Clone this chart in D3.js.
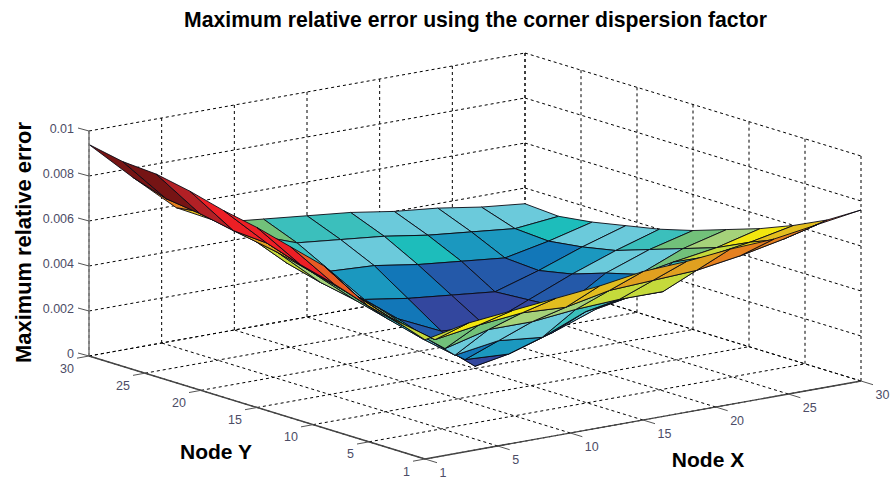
<!DOCTYPE html>
<html><head><meta charset="utf-8">
<script src="https://cdn.jsdelivr.net/npm/d3@7"></script>
<style>html,body{margin:0;background:#fff}svg{display:block}text{font-family:"Liberation Sans",Arial,sans-serif}</style>
</head><body><svg id="c" width="890" height="480"></svg>
<script>
const chartTitle="Maximum relative error using the corner dispersion factor";
const zTitle="Maximum relative error", xTitle="Node X", yTitle="Node Y";
const nodeX=[0,3,6,9,12,15,18,21,24,27,30];
const nodeY=[0,3,6,9,12,15,18,21,24,27,30];
const tickPos=[0,5,10,15,20,25,30];
const tickLabels=["1","5","10","15","20","25","30"];
const zTicks=[0,0.002,0.004,0.006,0.008,0.01];
const zTickLabels=["0","0.002","0.004","0.006","0.008","0.01"];
// rows by nodeY index, columns by nodeX index
const errY0 =[.0053,.0057,.0059,.0061,.0063,.0066,.0067,.0069,.0070,.0073,.0076];
const errY3 =[.0058,.0045,.0048,.0050,.0049,.0053,.0054,.0055,.0058,.0062,.0067];
const errY6 =[.0063,.0047,.0033,.0038,.0038,.0040,.0041,.0041,.0053,.0056,.0060];
const errY9 =[.0072,.0051,.0037,.0022,.0025,.0023,.0031,.0034,.0046,.0049,.0054];
const errY12=[.0076,.0056,.0042,.0025,.0012,.0011,.0017,.0024,.0036,.0044,.0049];
const errY15=[.0080,.0060,.0045,.0029,.0016,.0001,.0008,.0020,.0032,.0039,.0044];
const errY18=[.0083,.0065,.0049,.0033,.0021,.0012,.0011,.0019,.0027,.0034,.0040];
const errY21=[.0087,.0066,.0053,.0036,.0025,.0022,.0020,.0018,.0024,.0031,.0037];
const errY24=[.0090,.0069,.0057,.0040,.0033,.0032,.0029,.0027,.0025,.0029,.0034];
const errY27=[.0091,.0071,.0061,.0048,.0041,.0039,.0037,.0034,.0032,.0030,.0032];
const errY30=[.0094,.0076,.0059,.0049,.0047,.0045,.0043,.0040,.0038,.0035,.0033];
const errorRows=[errY0,errY3,errY6,errY9,errY12,errY15,errY18,errY21,errY24,errY27,errY30];
const colorStops=[.0015,.0021,.0025,.0029,.0030,.0039,.0044,.0049,.0053,.0056,.0060,.0065,.0069,.0072,.0075,.0085,.0088];
const colorRamp=["#33479e","#2459a9","#1277b8","#1b98bf","#1dbdbb","#6bcadb","#3bbfbc","#72c17a","#a5d27a","#c5da3b","#f2e60f","#e2bd1f","#e0a020","#e5801f","#e85a24","#ec1f25","#b22025","#761414"];

const color=d3.scaleThreshold().domain(colorStops).range(colorRamp);
const ox=[425,459];
const sxX=d3.scaleLinear().domain([0,30]).range([0,436]);
const sxY=d3.scaleLinear().domain([0,30]).range([0,-78]);
const syX=d3.scaleLinear().domain([0,30]).range([0,-336]);
const syY=d3.scaleLinear().domain([0,30]).range([0,-103]);
const sz=d3.scaleLinear().domain([0,0.01]).range([0,-225]);
const P=(x,y,z)=>[ox[0]+sxX(x)+syX(y), ox[1]+sxY(x)+syY(y)+sz(z)];
const svg=d3.select("#c");
const seg=(g,a,b,cls)=>g.append("line").attr("x1",a[0]).attr("y1",a[1]).attr("x2",b[0]).attr("y2",b[1]).attr("class",cls);

const grid=svg.append("g").attr("stroke","#000").attr("stroke-width",1).attr("stroke-dasharray","3,3").attr("fill","none");
tickPos.forEach(t=>{
  seg(grid,P(t,0,0),P(t,30,0));          // floor lines of constant X
  seg(grid,P(0,t,0),P(30,t,0));          // floor lines of constant Y
  seg(grid,P(t,30,0),P(t,30,0.01));      // back-left wall verticals
  seg(grid,P(30,t,0),P(30,t,0.01));      // back-right wall verticals
});
zTicks.forEach(z=>{
  seg(grid,P(0,30,z),P(30,30,z));
  seg(grid,P(30,30,z),P(30,0,z));
});

// surface: far cells first
const cells=[];
for(let j=0;j<nodeY.length-1;j++)for(let i=0;i<nodeX.length-1;i++)cells.push({i,j});
cells.sort((a,b)=>(33.6*b.i+43.6*b.j)-(33.6*a.i+43.6*a.j));
svg.append("g").selectAll("path").data(cells).join("path")
  .attr("d",c=>{
    const v=[[c.i,c.j],[c.i+1,c.j],[c.i+1,c.j+1],[c.i,c.j+1]].map(([a,b])=>P(nodeX[a],nodeY[b],errorRows[b][a]));
    return d3.line()(v)+"Z";})
  .attr("fill",c=>color(errorRows[c.j][c.i]))
  .attr("stroke","#0a0a14").attr("stroke-width",0.9).attr("stroke-linejoin","round");

// axes
const axes=svg.append("g").attr("fill","none");
seg(axes,P(0,30,0),P(0,30,0.01)).attr("stroke","#808080").attr("stroke-width",1.6);
seg(axes,P(0,0,0),P(30,0,0)).attr("stroke","#444").attr("stroke-width",1.4);
seg(axes,P(0,0,0),P(0,30,0)).attr("stroke","#444").attr("stroke-width",1.4);
const txt=svg.append("g").attr("fill","#4c4c66").attr("font-size",12.5);
tickPos.forEach((t,k)=>{
  const a=P(t,0,0), b=P(0,t,0);
  axes.append("line").attr("x1",a[0]).attr("y1",a[1]).attr("x2",a[0]+12).attr("y2",a[1]+3.7).attr("stroke","#555");
  axes.append("line").attr("x1",b[0]).attr("y1",b[1]).attr("x2",b[0]-12).attr("y2",b[1]+2.2).attr("stroke","#555");
  txt.append("text").attr("x",a[0]+14.5).attr("y",a[1]+18).attr("text-anchor","start").text(tickLabels[k]);
  txt.append("text").attr("x",b[0]-15).attr("y",b[1]+16.5).attr("text-anchor","end").text(tickLabels[k]);
});
zTicks.forEach((z,k)=>{
  const a=P(0,30,z);
  axes.append("line").attr("x1",a[0]).attr("y1",a[1]).attr("x2",a[0]-11).attr("y2",a[1]-3).attr("stroke","#555");
  txt.append("text").attr("x",a[0]-15).attr("y",a[1]+2).attr("text-anchor","end").text(zTickLabels[k]);
});
const bold=(s,x,y,size)=>svg.append("text").attr("x",x).attr("y",y).attr("text-anchor","middle").attr("font-weight","bold").attr("font-size",size).attr("fill","#000").text(s);
bold(chartTitle,475.5,27,21.2);
bold(xTitle,708,467,21);
bold(yTitle,216,459,21);
bold(zTitle,0,0,21.9).attr("transform","translate(31,242.5) rotate(-90)");
</script></body></html>
